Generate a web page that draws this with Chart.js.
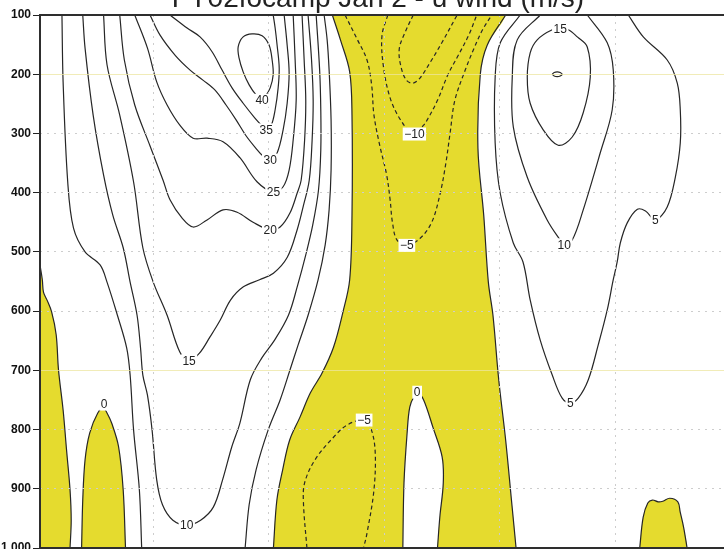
<!DOCTYPE html>
<html>
<head>
<meta charset="utf-8">
<script src="https://cdn.jsdelivr.net/npm/chart.js@4.4.1/dist/chart.umd.min.js"></script>
<style>
  html, body { margin: 0; padding: 0; width: 724px; height: 549px; overflow: hidden; background: #fff; }
  #wrap { position: relative; width: 740px; height: 560px; }
</style>
</head>
<body>
<div id="wrap"><canvas id="c" width="740" height="560"></canvas></div>
<script>
// ---- chart text and axes ----
const titleText = 'FY02focamp Jan 2 - u wind (m/s)';
const pressureTicks = [100, 200, 300, 400, 500, 600, 700, 800, 900, 1000];
const xGridTicks = [10, 20, 30, 40, 50];
const highlightLevels = [200, 700];

// ---- contour lines, each point is [x, pressure hPa] ----
// zero line (edges of the easterly / negative-wind shading)
const zeroFarLeft = [[0.2,522],[0.4,547],[0.5,568],[0.8,581],[1.2,601],[1.6,640],[1.8,699],[2.2,767],[2.5,835],[2.8,902],[2.9,953],[2.8,1000]];
const zeroLeftBlob = [[3.8,1000],[3.9,919],[4.1,851],[4.5,806],[5.2,772],[5.7,764],[6.0,772],[6.4,789],[7.0,829],[7.4,902],[7.6,1000]];
const zeroBandWest = [[25.5,100],[26.2,142],[27.0,196],[27.2,269],[27.2,438],[27.0,547],[26.4,603],[25.6,661],[24.6,705],[23.6,738],[22.7,779],[21.8,818],[21.2,868],[20.7,919],[20.4,1000]];
const zeroBandEast = [[40.5,100],[38.9,151],[38.3,201],[38.1,325],[38.6,438],[39.0,551],[39.4,607],[39.9,716],[40.5,818],[41.0,919],[41.4,1000]];
const zeroInnerTongue = [[31.6,1000],[31.7,890],[31.97,806],[32.2,762],[32.6,743],[32.9,738],[33.4,750],[34.2,796],[35.0,846],[35.1,890],[34.8,948],[34.6,1000]];
const zeroRightBlob = [[52.1,1000],[52.4,948],[52.8,924],[53.2,919],[53.7,922],[54.1,921],[54.7,916],[55.4,922],[55.6,939],[55.9,965],[56.2,1000]];

// negative levels (dashed)
const neg5Upper = [[26.6,100],[27.6,139],[28.5,176],[28.9,218],[29.1,269],[29.6,320],[30.2,370],[30.5,412],[30.7,450],[31.1,480],[32.0,488],[33.1,477],[34.1,450],[34.8,404],[35.3,353],[35.7,298],[36.1,244],[37.0,193],[37.7,159],[38.5,125],[39.3,100]];
const neg10 = [[30.3,100],[29.8,134],[29.9,184],[30.5,240],[31.4,277],[32.5,301],[33.4,286],[33.8,274],[34.6,244],[35.5,201],[36.4,168],[37.3,134],[38.0,100]];
const neg15 = [[32.5,100],[31.8,129],[31.3,156],[31.4,184],[31.9,210],[32.5,215],[33.1,206],[34.0,179],[35.0,146],[36.3,100]];
const neg5Lower = [[23.3,1000],[23.0,924],[23.1,890],[24.0,851],[25.6,813],[26.8,792],[28.2,784],[28.8,796],[29.2,835],[29.1,902],[28.5,975],[28.2,1000]];

// positive levels, western jet
const pos5West = [[2.1,100],[2.2,213],[2.6,382],[3.1,460],[4.1,500],[5.4,522],[6.0,551],[6.9,607],[7.7,662],[8.0,708],[8.3,801],[8.8,902],[9.0,1000]];
const pos5Arc = [[17.95,1000],[18.3,927],[18.9,868],[19.94,801],[20.98,750],[21.84,699],[22.54,657],[23.4,607],[24.27,547],[24.88,488],[25.22,429],[25.39,362],[25.39,277],[25.22,193],[25.05,142],[24.79,100]];
const pos10West = [[3.9,100],[4.1,156],[4.8,269],[5.7,370],[6.5,438],[7.4,493],[8.0,551],[8.6,607],[8.9,662],[9.1,708],[9.5,742],[9.9,801],[10.3,885],[10.8,927],[11.7,953],[12.9,961],[14.1,953],[15.2,931],[16.0,885],[16.8,829],[17.5,789],[18.4,716],[19.4,679],[20.5,649],[21.7,607],[22.5,556],[23.2,505],[23.8,455],[24.3,396],[24.5,328],[24.5,260],[24.4,193],[24.1,100]];
const pos15West = [[5.7,100],[6.0,184],[7.1,269],[8.3,382],[9.1,493],[10.0,551],[11.2,607],[12.3,669],[13.1,684],[14.0,671],[14.9,644],[15.8,615],[16.7,581],[17.8,559],[19.2,547],[20.4,536],[21.6,509],[22.45,463],[22.97,424],[23.5,379],[23.75,311],[23.84,244],[23.7,176],[23.4,100]];
const pos20West = [[7.1,100],[7.5,176],[8.4,252],[9.7,320],[10.85,379],[11.45,412],[12.5,443],[13.45,458],[14.66,446],[16.04,429],[17.26,433],[18.64,450],[20.12,463],[20.98,458],[21.84,434],[22.45,401],[22.8,379],[23.1,311],[23.2,244],[23.06,176],[22.88,100]];
const pos25West = [[8.4,100],[9.5,156],[10.3,213],[11.2,252],[12.3,286],[13.45,308],[14.66,308],[16.04,314],[17.5,341],[19.0,382],[20.4,399],[21.24,390],[21.76,362],[22.11,311],[22.37,244],[22.28,176],[22.11,100]];
const pos30West = [[9.72,100],[10.59,134],[11.9,168],[13.19,193],[14.3,210],[15.35,227],[16.3,252],[17.17,277],[18.0,303],[18.8,323],[19.5,338],[20.12,345],[20.72,333],[21.24,294],[21.59,249],[21.76,198],[21.59,151],[21.33,100]];
const pos35West = [[11.45,100],[12.93,122],[14.05,137],[15.09,162],[15.96,193],[16.82,223],[17.78,249],[18.8,274],[19.5,289],[19.77,294],[20.2,287],[20.55,260],[20.81,223],[20.9,189],[20.72,151],[20.55,122],[20.38,100]];
const pos40Core = [[19.42,244],[18.9,235],[18.3,218],[17.78,196],[17.43,173],[17.35,154],[17.78,137],[18.55,132],[19.42,135],[20.03,151],[20.29,176],[20.38,201],[20.12,223],[19.68,238],[19.42,244]];

// positive levels, eastern jet
const pos5East = [[41.76,100],[40.03,147],[39.59,205],[39.59,316],[40.03,401],[41.16,485],[42.0,517],[42.62,581],[43.49,649],[44.53,708],[45.39,747],[46.09,755],[46.78,747],[47.65,716],[48.51,657],[49.29,598],[49.81,547],[50.15,517],[50.42,485],[51.02,451],[51.9,428],[52.6,431],[53.45,446],[54.48,424],[55.18,374],[55.61,316],[55.61,260],[55.35,215],[54.48,176],[52.41,137],[51.11,100]];
const pos10East = [[43.49,100],[41.5,142],[41.07,205],[41.16,289],[42.37,374],[44.09,446],[45.22,480],[45.57,488],[46.26,480],[47.21,429],[48.68,333],[49.72,260],[49.81,193],[49.29,147],[47.56,100]];
const pos15East = [[45.22,124],[45.91,125],[46.7,137],[47.56,154],[47.82,205],[47.21,265],[46.26,306],[45.04,320],[43.75,294],[42.62,249],[42.37,205],[42.62,164],[43.23,142],[44.53,125],[45.22,124]];
const pos20East = [[44.53,200],[44.7,197],[44.96,196],[45.22,197],[45.39,200],[45.22,203],[44.96,204],[44.7,203],[44.53,200]];

// contour labels: [x, pressure, level]
const contourLabels = [
  [19.42,244,40],[19.77,294,35],[20.12,345,30],[20.4,399,25],[20.12,463,20],
  [13.1,684,15],[12.9,961,10],[5.74,757,0],
  [32.6,301,-10],[31.95,489,-5],[32.84,737,0],[28.25,784,-5],
  [45.22,124,15],[45.57,488,10],[53.45,446,5],[46.09,755,5]
];

// ---- styling and assembly ----
const FILL = 'rgb(229,219,46)';
const INK = '#262626';
const GRID = '#cdcdcd';
const OFF_BOTTOM = 1040, OFF_TOP = 60;

const pts = a => a.map(([x, y]) => ({x, y}));
const contour = (a, dashed) => ({
  data: pts(a), borderColor: INK, borderWidth: 1.2, borderDash: dashed ? [4, 3] : [],
  pointRadius: 0, tension: 0.35, fill: false, order: 1
});
const shade = a => ({
  data: pts(a), borderWidth: 0, borderColor: 'rgba(0,0,0,0)', backgroundColor: FILL,
  pointRadius: 0, tension: 0.35, fill: 'shape', order: 2
});

// negative-wind regions, closed along the plot edges
const shadeFarLeft = [...zeroFarLeft, [2.8, OFF_BOTTOM], [-2, OFF_BOTTOM], [-2, 522]];
const shadeLeftBlob = [...zeroLeftBlob, [7.6, OFF_BOTTOM], [3.8, OFF_BOTTOM]];
const shadeBand = [
  ...zeroBandWest, [20.4, OFF_BOTTOM], [31.6, OFF_BOTTOM],
  ...zeroInnerTongue, [34.6, OFF_BOTTOM], [41.4, OFF_BOTTOM],
  ...[...zeroBandEast].reverse(), [40.5, OFF_TOP], [25.5, OFF_TOP]
];
const shadeRightBlob = [...zeroRightBlob, [56.2, OFF_BOTTOM], [52.1, OFF_BOTTOM]];

const datasets = [
  shade(shadeFarLeft), shade(shadeLeftBlob), shade(shadeBand), shade(shadeRightBlob),
  contour(zeroFarLeft), contour(zeroLeftBlob), contour(zeroBandWest), contour(zeroBandEast),
  contour(zeroInnerTongue), contour(zeroRightBlob),
  contour(neg5Upper, true), contour(neg10, true), contour(neg15, true), contour(neg5Lower, true),
  contour(pos5West), contour(pos5Arc), contour(pos10West), contour(pos15West), contour(pos20West),
  contour(pos25West), contour(pos30West), contour(pos35West), contour(pos40Core),
  contour(pos5East), contour(pos10East), contour(pos15East), contour(pos20East)
];

// faint reference lines at the highlighted pressure levels
const levelLines = {
  id: 'levelLines',
  afterDatasetsDraw(chart) {
    const {ctx, chartArea: a, scales: {y}} = chart;
    ctx.save();
    ctx.strokeStyle = 'rgba(236,230,160,0.75)';
    ctx.lineWidth = 1;
    for (const v of highlightLevels) {
      const py = Math.round(y.getPixelForValue(v)) + 0.5;
      ctx.beginPath(); ctx.moveTo(a.left, py); ctx.lineTo(a.right, py); ctx.stroke();
    }
    ctx.restore();
  }
};

const frameTitleLabels = {
  id: 'frameTitleLabels',
  afterDraw(chart) {
    const {ctx, chartArea: a, scales: {x, y}} = chart;
    ctx.save();
    // contour labels on white boxes
    ctx.font = '12px "Liberation Sans", Arial, sans-serif';
    ctx.textAlign = 'center';
    ctx.textBaseline = 'middle';
    for (const [lx, lp, v] of contourLabels) {
      const px = x.getPixelForValue(lx), py = y.getPixelForValue(lp);
      const t = v < 0 ? '\u2212' + Math.abs(v) : String(v);
      const w = ctx.measureText(t).width;
      ctx.fillStyle = '#fff';
      ctx.fillRect(px - w / 2 - 1.5, py - 6.5, w + 3, 13);
      ctx.fillStyle = '#222';
      ctx.fillText(t, px, py + 0.5);
    }
    // plot frame
    ctx.strokeStyle = '#2e2e2e';
    ctx.lineWidth = 2;
    ctx.strokeRect(a.left, a.top, a.right - a.left, a.bottom - a.top);
    // title
    ctx.fillStyle = '#222';
    ctx.font = '28px "Liberation Sans", Arial, sans-serif';
    ctx.textAlign = 'center';
    ctx.textBaseline = 'alphabetic';
    ctx.fillText(titleText, 378, 7);
    ctx.restore();
  }
};

Chart.defaults.font.family = '"Liberation Sans", Arial, sans-serif';

new Chart(document.getElementById('c'), {
  type: 'line',
  data: { datasets },
  options: {
    responsive: false,
    animation: false,
    events: [],
    layout: { padding: { top: 15, right: 9, bottom: 12, left: 0 } },
    plugins: { legend: { display: false }, tooltip: { enabled: false }, title: { display: false } },
    scales: {
      x: {
        type: 'linear', min: 0.2, max: 60,
        afterBuildTicks: s => { s.ticks = xGridTicks.map(v => ({ value: v })); },
        afterFit: s => { s.height = 0; },
        ticks: { display: false },
        grid: { color: GRID, lineWidth: 1, drawTicks: false, z: 1 },
        border: { display: false, dash: [2, 5] }
      },
      y: {
        type: 'linear', reverse: true, min: 100, max: 1000,
        afterBuildTicks: s => { s.ticks = pressureTicks.map(v => ({ value: v })); },
        afterFit: s => { s.width = 40; },
        ticks: { color: '#111', padding: 2, font: { size: 12, weight: 'bold' } },
        grid: {
          color: c => (c.tick && highlightLevels.includes(c.tick.value)) ? 'rgba(0,0,0,0)' : GRID,
          tickColor: '#222', tickLength: 7, lineWidth: 1, z: 1
        },
        border: { display: false, dash: [2, 5] }
      }
    }
  },
  plugins: [levelLines, frameTitleLabels]
});
</script>
</body>
</html>
